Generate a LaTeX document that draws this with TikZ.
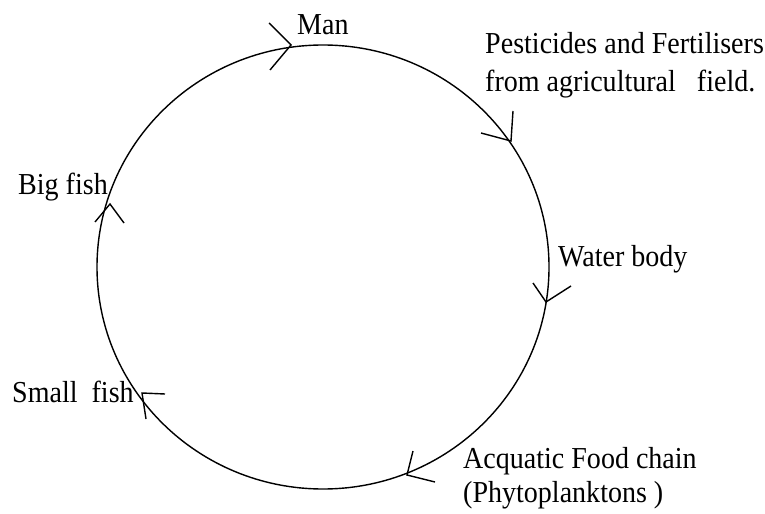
\documentclass[tikz,border=0pt]{standalone}
\usepackage{fontspec}
\setmainfont[FakeStretch=0.92]{Liberation Serif}
\begin{document}
\begin{tikzpicture}[x=0.03cm,y=-0.03cm,
  lbl/.style={anchor=base west,inner sep=0pt,font=\fontsize{26}{30}\selectfont},
  cyc/.style={line width=1.2pt},
  barb/.style={line width=1.2pt}]
\useasboundingbox (0,0) rectangle (765,514);
\coordinate (c) at (323,267);
\draw[cyc] (c) ellipse [x radius=6.78cm, y radius=6.66cm];
% labels
\node[lbl] (man) at (297,35) {Man};
\node[lbl] (pest1) at (485,54) {Pesticides and Fertilisers};
\node[lbl] (pest2) at (485,92) {from agricultural\ \ \ field.};
\node[lbl] (water) at (558,267) {Water body};
\node[lbl] (aq1) at (463,468) {Acquatic Food chain};
\node[lbl] (aq2) at (463,502) {(Phytoplanktons )};
\node[lbl] (small) at (12,402) {Small\ \ fish};
\node[lbl] (big) at (18,195) {Big fish};
% arrow tips
\coordinate (t1) at (291,45);
\draw[barb] (t1) ++(-22,-22) -- (t1) -- ++(-21,25);
\coordinate (t2) at (511,141);
\draw[barb] (t2) ++(2,-30) -- (t2) -- ++(-30,-8);
\coordinate (t3) at (546,302);
\draw[barb] (t3) ++(-13,-19) -- (t3) -- ++(25,-16);
\coordinate (t4) at (407,475);
\draw[barb] (t4) ++(6,-24) -- (t4) -- ++(28,7);
\coordinate (t5) at (142,393);
\draw[barb] (t5) ++(23,1) -- (t5) -- ++(4,26);
\coordinate (t6) at (110,204);
\draw[barb] (t6) ++(-15,18) -- (t6) -- ++(14,19);
\end{tikzpicture}
\end{document}
